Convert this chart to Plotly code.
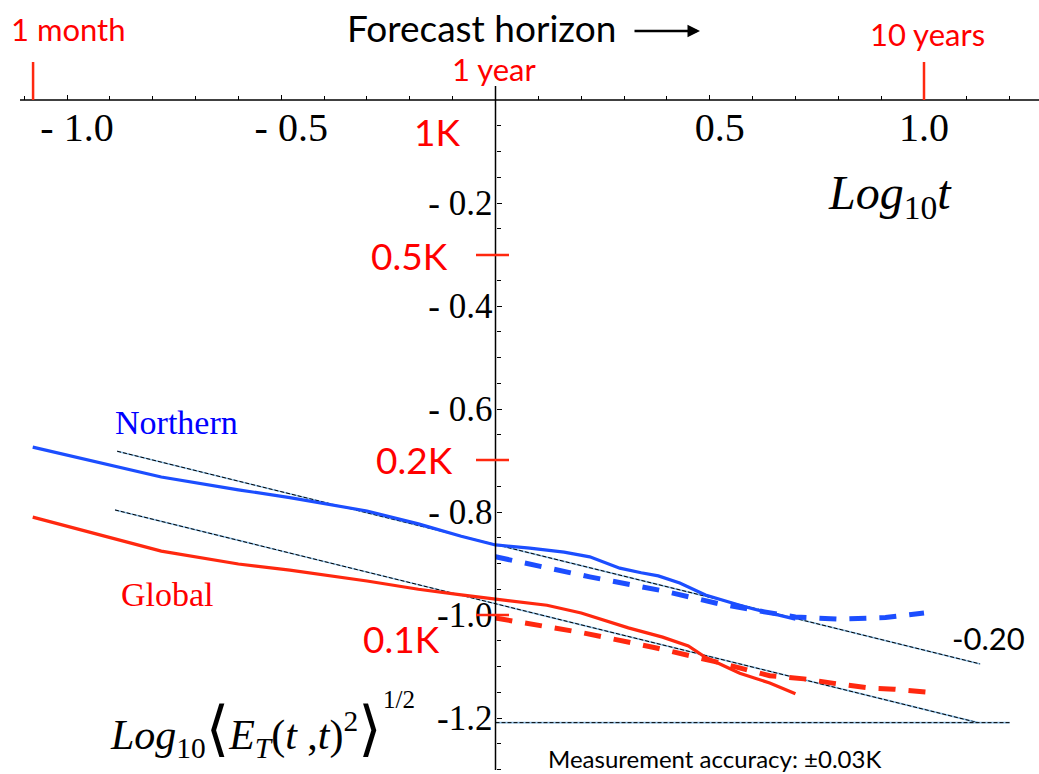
import numpy as np
import plotly.graph_objects as go

# ---- data: log10 forecast horizon (years) vs log10 RMS forecast error (K) ----
north_x = [-1.08, -0.78, -0.60, -0.48, -0.30, -0.18, -0.08, 0.00, 0.08, 0.16,
           0.22, 0.29, 0.34, 0.38, 0.43, 0.49, 0.57, 0.60, 0.70]
north_y = [-0.674, -0.732, -0.757, -0.772, -0.798, -0.823, -0.847, -0.864, -0.870, -0.878,
           -0.887, -0.909, -0.918, -0.924, -0.938, -0.961, -0.981, -0.988, -1.008]

global_x = [-1.08, -0.78, -0.60, -0.48, -0.30, -0.18, -0.08, 0.00, 0.12, 0.20,
            0.31, 0.39, 0.45, 0.49, 0.57, 0.64, 0.70]
global_y = [-0.810, -0.876, -0.901, -0.913, -0.934, -0.950, -0.961, -0.969, -0.981, -0.996,
            -1.025, -1.043, -1.060, -1.082, -1.113, -1.132, -1.153]

north_fc_x = [0.00, 0.22, 0.39, 0.52, 0.60, 0.70, 0.80, 0.91, 1.00]
north_fc_y = [-0.887, -0.926, -0.953, -0.978, -0.990, -1.004, -1.008, -1.005, -0.996]

global_fc_x = [0.00, 0.20, 0.37, 0.51, 0.64, 0.72, 0.80, 0.875, 0.93, 1.01]
global_fc_y = [-1.006, -1.034, -1.063, -1.090, -1.118, -1.124, -1.134, -1.142, -1.144, -1.150]

# power-law reference lines (slope -0.20) and measurement-accuracy floor
fit_north_x = [-0.883, 1.131]
fit_north_y = [-0.682, -1.095]
fit_global_x = [-0.888, 1.126]
fit_global_y = [-0.796, -1.209]
floor_x = [0.0, 1.20]
floor_y = [-1.209, -1.209]
slope_label = "-0.20"

# axis ticks
x_tickvals = [-1.0, -0.5, 0.5, 1.0]
x_ticktext = ["- 1.0", "- 0.5", "0.5", "1.0\u00a0\u00a0"]
y_tickvals = [-0.2, -0.4, -0.6, -0.8, -1.0, -1.2]
y_ticktext = ["- 0.2", "- 0.4", "- 0.6", "- 0.8", "-1.0", "-1.2"]
y_minor_vals = [-0.05 * k for k in range(1, 27)]

# reference amplitudes (K) and horizons (years)
k_labels = ["1K", "0.5K", "0.2K", "0.1K"]
k_values = [1.0, 0.5, 0.2, 0.1]
horizon_labels = ["1 month", "1 year", "10 years"]
horizon_years = [1 / 12, 1.0, 10.0]

# ---- styling / placement ----
W, H = 1039, 774
X0_PX, X_SCALE = 495.5, 428.5      # pixel of x=0, pixels per unit
Y0_PX, Y_SCALE = 100.0, 515.0      # pixel of y=0, pixels per unit
x_range = [(0 - X0_PX) / X_SCALE, (W - X0_PX) / X_SCALE]
y_range = [-(H - Y0_PX) / Y_SCALE, Y0_PX / Y_SCALE]


def px_x(p):
    return (p - X0_PX) / X_SCALE


def px_y(p):
    return -(p - Y0_PX) / Y_SCALE


BLUE = "rgb(28,78,255)"
RED = "rgb(255,40,15)"
TXT_RED = "rgb(255,0,0)"
SERIF = "Liberation Serif, DejaVu Serif, serif"
SANS = "Lato, Open Sans, sans-serif"

fig = go.Figure()

# reference lines: light blue core with thin black dashes over it
for lx, ly in [(fit_north_x, fit_north_y), (fit_global_x, fit_global_y), (floor_x, floor_y)]:
    fig.add_trace(go.Scatter(x=lx, y=ly, mode="lines",
                             line=dict(color="rgb(140,190,230)", width=1.6)))
    fig.add_trace(go.Scatter(x=lx, y=ly, mode="lines",
                             line=dict(color="black", width=1, dash="4px,2px")))

fig.add_trace(go.Scatter(x=north_x, y=north_y, mode="lines",
                         line=dict(color=BLUE, width=3.2)))
fig.add_trace(go.Scatter(x=global_x, y=global_y, mode="lines",
                         line=dict(color=RED, width=3.2)))
fig.add_trace(go.Scatter(x=north_fc_x, y=north_fc_y, mode="lines",
                         line=dict(color=BLUE, width=5, dash="17px,13px")))
fig.add_trace(go.Scatter(x=global_fc_x, y=global_fc_y, mode="lines",
                         line=dict(color=RED, width=5, dash="17px,13px")))

shapes = []
# axis lines crossing at the origin
shapes.append(dict(type="line", xref="x", yref="y", x0=px_x(20), x1=x_range[1], y0=0, y1=0,
                   line=dict(color="black", width=1.5)))
shapes.append(dict(type="line", xref="x", yref="y", x0=0, x1=0, y0=px_y(86), y1=px_y(770),
                   line=dict(color="black", width=1.5)))

annotations = []

# horizon markers on the time axis
h_shift = [(35, 71), (-2, 31), (3, 66)]
for lab, yrs, (dx, dy) in zip(horizon_labels, horizon_years, h_shift):
    lx = float(np.log10(yrs))
    if lab != "1 year":
        shapes.append(dict(type="line", xref="x", yref="y", x0=lx, x1=lx, y0=0, y1=px_y(62),
                           line=dict(color=RED, width=2.5)))
    annotations.append(dict(x=lx, y=0, xref="x", yref="y", text=lab, showarrow=False,
                            xshift=dx, yshift=dy, font=dict(family=SANS, size=31, color=TXT_RED)))

# amplitude markers on the error axis
k_shift = [(-33.5, -31), (-45.5, 0), (-40.5, 0), (-53.5, -23)]
for lab, kv, (dx, dy) in zip(k_labels, k_values, k_shift):
    ly = float(np.log10(kv))
    if kv != 1.0:
        shapes.append(dict(type="line", xref="x", yref="y", x0=px_x(476), x1=px_x(509),
                           y0=ly, y1=ly, line=dict(color=RED, width=2.5)))
    annotations.append(dict(x=0, y=ly, xref="x", yref="y", text=lab, showarrow=False,
                            xanchor="right", xshift=dx, yshift=dy,
                            font=dict(family=SANS, size=37, color=TXT_RED)))

# title with arrow
annotations.append(dict(x=px_x(481), y=px_y(27), xref="x", yref="y", text="Forecast horizon",
                        showarrow=False, font=dict(family=SANS, size=37, color="black")))
annotations.append(dict(x=px_x(700), y=px_y(31), ax=px_x(633), ay=px_y(31), xref="x", yref="y",
                        axref="x", ayref="y", text="", showarrow=True, arrowhead=2,
                        arrowsize=1, arrowwidth=2.5, arrowcolor="black"))

# series names
annotations.append(dict(x=px_x(176), y=px_y(422), xref="x", yref="y", text="Northern",
                        showarrow=False, font=dict(family=SERIF, size=34, color="rgb(0,0,255)")))
annotations.append(dict(x=px_x(167), y=px_y(594), xref="x", yref="y", text="Global",
                        showarrow=False, font=dict(family=SERIF, size=34, color="rgb(255,0,0)")))

# slope and accuracy notes
annotations.append(dict(x=px_x(988), y=px_y(638), xref="x", yref="y", text=slope_label,
                        showarrow=False, font=dict(family=SANS, size=31, color="black")))
annotations.append(dict(x=px_x(714), y=px_y(758), xref="x", yref="y",
                        text="Measurement accuracy: \u00b10.03K",
                        showarrow=False, font=dict(family=SANS, size=24, color="black")))

# axis titles
annotations.append(dict(x=px_x(826), y=px_y(196), xref="x", yref="y", xanchor="left",
                        text="<i>Log</i><sub>10</sub><i>t</i>", showarrow=False,
                        font=dict(family=SERIF, size=48, color="black")))
bracket = '<span style="font-family:DejaVu Sans;font-size:60px">{}</span>'
annotations.append(dict(x=px_x(108), y=px_y(728), xref="x", yref="y", xanchor="left",
                        text="<i>Log</i><sub>10</sub>" + bracket.format("\u27e8") +
                             "<i>E</i><sub><i>T</i></sub>(<i>t</i> ,<i>t</i>)<sup>2</sup>" +
                             bracket.format("\u27e9"),
                        showarrow=False, font=dict(family=SERIF, size=42, color="black")))
# exponent of the RMS bracket
annotations.append(dict(x=px_x(381), y=px_y(699), xref="x", yref="y", xanchor="left",
                        text="1/2", showarrow=False,
                        font=dict(family=SERIF, size=25, color="black")))

fig.update_layout(
    width=W, height=H,
    margin=dict(l=0, r=0, t=0, b=0),
    paper_bgcolor="white", plot_bgcolor="white",
    showlegend=False,
    hovermode=False,
    shapes=shapes,
    annotations=annotations,
    xaxis=dict(range=x_range, domain=[0, 1], anchor="free", position=1 - Y0_PX / H,
               showgrid=False, zeroline=False, showline=False,
               tickmode="array", tickvals=x_tickvals, ticktext=x_ticktext,
               ticks="inside", ticklen=5, tickwidth=1.2, tickcolor="black",
               ticklabelshift=10,
               tickfont=dict(family=SERIF, size=40, color="black"),
               minor=dict(dtick=0.1, tick0=0, ticks="inside", ticklen=4,
                          tickwidth=1, tickcolor="black")),
    yaxis=dict(range=y_range, domain=[0, 1], anchor="free", position=X0_PX / W,
               showgrid=False, zeroline=False, showline=False,
               tickmode="array", tickvals=y_tickvals, ticktext=y_ticktext,
               ticks="inside", ticklen=5, tickwidth=1.2, tickcolor="black",
               ticklabelstandoff=3,
               tickfont=dict(family=SERIF, size=35, color="black"),
               minor=dict(tickmode="array", tickvals=y_minor_vals, ticks="inside",
                          ticklen=4, tickwidth=1, tickcolor="black")),
)

fig.write_html("out.html", config={"displayModeBar": False})
